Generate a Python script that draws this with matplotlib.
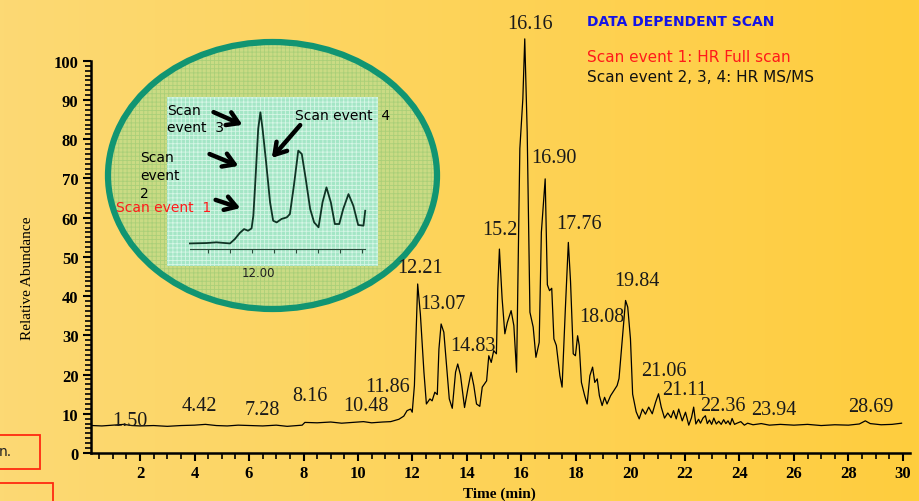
import numpy as np
import matplotlib.pyplot as plt
from matplotlib.patches import Ellipse, Rectangle
from matplotlib.ticker import FixedLocator

# main chromatogram, values
time = [0.25, 0.6, 1.0, 1.4, 1.7, 2.0, 2.5, 3.0, 3.5, 4.0, 4.4, 4.8, 5.2, 5.6,
        6.0, 6.5, 7.0, 7.4, 7.8, 7.95, 8.05, 8.5, 9.0, 9.4, 9.8, 10.2, 10.5,
        10.9, 11.2, 11.50, 11.68, 11.80, 11.93, 11.99, 12.07, 12.19, 12.29,
        12.42, 12.51, 12.64, 12.72, 12.82, 12.91, 12.97, 13.05, 13.15, 13.25,
        13.35, 13.46, 13.58, 13.66, 13.76, 13.91, 14.03, 14.15, 14.25, 14.35,
        14.47, 14.56, 14.72, 14.80, 14.89, 14.98, 15.08, 15.13, 15.19, 15.29,
        15.39, 15.48, 15.62, 15.72, 15.82, 15.94, 16.05, 16.12, 16.21, 16.31,
        16.43, 16.53, 16.65, 16.73, 16.87, 16.95, 17.03, 17.11, 17.19, 17.28,
        17.41, 17.49, 17.61, 17.72, 17.80, 17.90, 17.98, 18.06, 18.12, 18.20,
        18.32, 18.41, 18.51, 18.61, 18.69, 18.78, 18.86, 18.96, 19.05, 19.14,
        19.27, 19.39, 19.51, 19.58, 19.70, 19.82, 19.90, 20.00, 20.08, 20.21,
        20.32, 20.44, 20.55, 20.67, 20.80, 20.92, 21.03, 21.13, 21.25, 21.37,
        21.49, 21.58, 21.68, 21.77, 21.90, 22.02, 22.14, 22.24, 22.32, 22.40,
        22.50, 22.57, 22.66, 22.75, 22.82, 22.90, 22.98, 23.06, 23.15, 23.24,
        23.33, 23.42, 23.50, 23.58, 23.66, 23.73, 23.82, 23.91, 24.05, 24.18,
        24.30, 24.5, 24.8, 25.1, 25.5, 26.0, 26.5, 27.0, 27.5, 28.0, 28.4,
        28.62, 28.8, 29.2, 29.6, 29.95]
abundance = [7.0, 6.9, 7.1, 7.3, 7.0, 6.9, 7.0, 6.8, 7.0, 7.1, 7.3, 7.0, 6.9, 7.1,
             7.0, 6.9, 7.1, 6.8, 7.0, 7.1, 7.8, 7.7, 7.9, 7.6, 7.8, 8.0, 7.7,
             7.9, 8.0, 8.6, 9.4, 10.8, 11.2, 10.4, 17.2, 43.1, 35.3,
             20.6, 12.5, 13.8, 13.3, 15.5, 14.9, 26.5, 32.9, 30.8, 22.3,
             13.8, 11.4, 20.6, 22.7, 19.9, 11.6, 16.3, 20.6, 17.2, 12.5,
             11.9, 16.8, 18.4, 24.8, 23.1, 26.1, 25.3, 41.8, 52.0, 39.3,
             30.4, 33.3, 36.3, 32.5, 20.6, 77.6, 90.3, 105.6, 81.8, 35.9,
             32.1, 24.4, 28.2, 56.3, 69.9, 42.9, 41.4, 42.0, 29.1, 27.4,
             19.7, 16.8, 36.7, 53.7, 43.8, 25.3, 24.8, 29.9, 27.4, 18.0,
             14.6, 12.5, 19.7, 21.9, 18.0, 18.9, 14.6, 12.1, 14.2, 12.5,
             14.6, 15.9, 17.2, 19.0, 29.1, 38.9, 37.2, 29.1, 15.0, 10.5,
             8.7, 11.2, 9.9, 11.7, 10.0, 12.9, 15.1, 11.7, 8.9, 10.2,
             9.0, 10.8, 8.7, 11.2, 8.2, 10.4, 7.1, 9.0, 11.7, 7.4,
             8.6, 7.6, 8.9, 9.5, 7.5, 8.4, 7.3, 8.9, 7.4, 8.1,
             7.3, 8.5, 7.5, 8.2, 7.2, 8.8, 7.3, 7.6, 8.0, 7.1,
             7.6, 7.2, 7.5, 7.1, 7.3, 7.1, 7.3, 7.0, 7.2, 7.1, 7.4,
             8.2, 7.5, 7.2, 7.3, 7.6]

peak_labels = ["1.50", "4.42", "7.28", "8.16", "10.48", "11.86", "12.21", "13.07",
               "14.83", "15.2", "16.16", "16.90", "17.76", "18.08", "19.84",
               "21.06", "21.11", "22.36", "23.94", "28.69"]
# where each label sits (time, abundance)
label_x = [1.63, 4.17, 6.48, 8.22, 10.29, 11.07, 12.27, 13.12, 14.22, 15.21,
           16.31, 17.19, 18.11, 18.95, 20.24, 21.21, 22.0, 23.38, 25.27, 28.83]
label_y = [8.2, 12.2, 11.0, 14.6, 12.1, 17.0, 47.4, 38.0, 27.5, 57.1,
           109.4, 75.3, 58.4, 34.7, 44.0, 21.0, 16.3, 12.2, 11.0, 11.9]

# zoomed trace shown in the inset
inset_time = [11.860, 11.898, 11.920, 11.951, 11.962, 11.973, 11.983, 11.992,
              12.000, 12.004, 12.008, 12.015, 12.020, 12.025, 12.033, 12.042,
              12.049, 12.057, 12.068, 12.080, 12.087, 12.096, 12.106, 12.114,
              12.123, 12.133, 12.142, 12.152, 12.161, 12.170, 12.180, 12.189,
              12.199, 12.208, 12.220, 12.231, 12.242, 12.254, 12.258]
inset_abundance = [4.1, 4.4, 4.9, 4.1, 7.3, 11.7, 14.6, 13.4,
                   15.1, 24.4, 46.3, 87.8, 100, 87.8, 63.4, 34.1,
                   20.7, 19.5, 22.0, 23.2, 25.6, 46.3, 72.0, 69.5,
                   51.2, 29.3, 19.5, 15.9, 34.1, 45.1, 34.1, 18.3,
                   18.3, 29.3, 40.2, 31.7, 17.6, 17.1, 28.0]

W, H = 920, 502
fig = plt.figure(figsize=(W / 100, H / 100), dpi=100)

# background in pixel coordinates
bg = fig.add_axes([0, 0, 1, 1], zorder=0)
bg.set_xlim(0, W)
bg.set_ylim(H, 0)
bg.axis('off')
c0 = np.array([252, 217, 116]) / 255
c1 = np.array([255, 205, 62]) / 255
g = np.linspace(0, 1, 256)[:, None]
bg.imshow((c0 + (c1 - c0) * g)[None], extent=[0, W, H, 0], aspect='auto', zorder=0)

plt.rcParams['hatch.linewidth'] = 0.6
bg.add_patch(Ellipse((272.5, 176.5), 329, 267, facecolor='#cadb84',
                     edgecolor='#aacf78', hatch='++++', lw=0, zorder=1))
bg.add_patch(Rectangle((167, 98), 211, 169, facecolor='#a4e6c6',
                       edgecolor='#d6f6e6', hatch='++++', lw=0, zorder=2))
bg.add_patch(Ellipse((272.5, 176.5), 329, 267, fill=False,
                     edgecolor='#119572', lw=4.5, zorder=3))

# red boxes at the bottom left
bg.add_patch(Rectangle((-3, 436), 43, 34, fill=False, edgecolor='#ff2a10', lw=1.3))
bg.text(-1, 452, "n.", fontsize=10, color='#222222', va='center')
bg.add_patch(Rectangle((-3, 484), 56, 25, fill=False, edgecolor='#ff2a10', lw=1.3))

# legend texts
bg.text(587, 22, "DATA DEPENDENT SCAN", color='#1414e6', fontweight='bold',
        fontsize=10, va='center')
bg.text(587, 58, "Scan event 1: HR Full scan", color='#ff1a1a', fontsize=11, va='center')
bg.text(587, 77, "Scan event 2, 3, 4: HR MS/MS", color='#111111', fontsize=11, va='center')

# inset annotations
bg.text(167, 104, "Scan\nevent  3", fontsize=10, va='top', linespacing=1.3, zorder=5)
bg.text(140, 151, "Scan\nevent\n2", fontsize=10, va='top', linespacing=1.35, zorder=5)
bg.text(116, 208, "Scan event  1", fontsize=10, color='#ff1a1a', va='center', zorder=6)
bg.text(295, 116, "Scan event  4", fontsize=10, va='center', zorder=5)
arrow = dict(arrowstyle='->, head_length=0.8, head_width=0.5', lw=3.2, color='k')
for tail, head in [((211, 112), (245, 127)), ((207, 154), (241, 168)),
                   ((213, 200), (243, 210)), ((302, 124), (270, 161))]:
    bg.annotate("", xy=head, xytext=tail, arrowprops=arrow, zorder=5)

# axis titles
bg.text(28, 278, "Relative Abundance", rotation=90, family='Liberation Serif',
        fontsize=11, ha='center', va='center')
bg.text(499, 494, "Time (min)", family='Liberation Serif', fontweight='bold',
        fontsize=11, ha='center', va='center')

# main chromatogram
ax = fig.add_axes([91 / W, (H - 454) / H, 819 / W, (454 - 34) / H], zorder=2)
ax.patch.set_alpha(0)
ax.plot(time, abundance, color='k', lw=0.9)
ax.set_xlim(0.2, 30.26)
ax.set_ylim(0, 107.1)
for s in ['top', 'right']:
    ax.spines[s].set_visible(False)
ax.spines['left'].set_bounds(0, 100)
ax.spines['left'].set_linewidth(1.8)
ax.spines['bottom'].set_linewidth(1.8)
ax.set_xticks(range(2, 31, 2))
ax.set_yticks(range(0, 101, 10))
ax.xaxis.set_minor_locator(FixedLocator(np.arange(0.5, 30.1, 0.5)))
ax.yaxis.set_minor_locator(FixedLocator(np.arange(1.25, 100, 1.25)))
ax.tick_params(which='major', length=6, width=1.5, pad=3)
ax.tick_params(which='minor', length=4, width=1.2)
for lab in ax.get_xticklabels() + ax.get_yticklabels():
    lab.set_family('Liberation Serif')
    lab.set_fontweight('bold')
    lab.set_fontsize(12)
for txt, x, y in zip(peak_labels, label_x, label_y):
    ax.text(x, y, txt, family='Liberation Serif', fontsize=14.5, color='#1a1a1a',
            ha='center', va='center', clip_on=False)

# inset chromatogram
ax_in = fig.add_axes([167 / W, (H - 267) / H, 211 / W, 169 / H], zorder=3)
ax_in.patch.set_alpha(0)
ax_in.plot(inset_time, inset_abundance, color='#0f3324', lw=1.3)
ax_in.set_xlim(11.808, 12.287)
ax_in.set_ylim(-12.4, 111.2)
for s in ['top', 'right', 'left']:
    ax_in.spines[s].set_visible(False)
ax_in.spines['bottom'].set_position(('data', 0))
ax_in.spines['bottom'].set_bounds(11.86, 12.258)
ax_in.spines['bottom'].set_color('#2a4a3a')
ax_in.set_xticks(np.arange(11.90, 12.26, 0.05))
ax_in.set_xticklabels([])
ax_in.set_yticks([])
ax_in.tick_params(length=3, color='#2a4a3a')
ax_in.text(12.015, -17, "12.00", fontsize=8.5, color='#202020', ha='center', va='center')

fig.savefig("out.png", dpi=100)
